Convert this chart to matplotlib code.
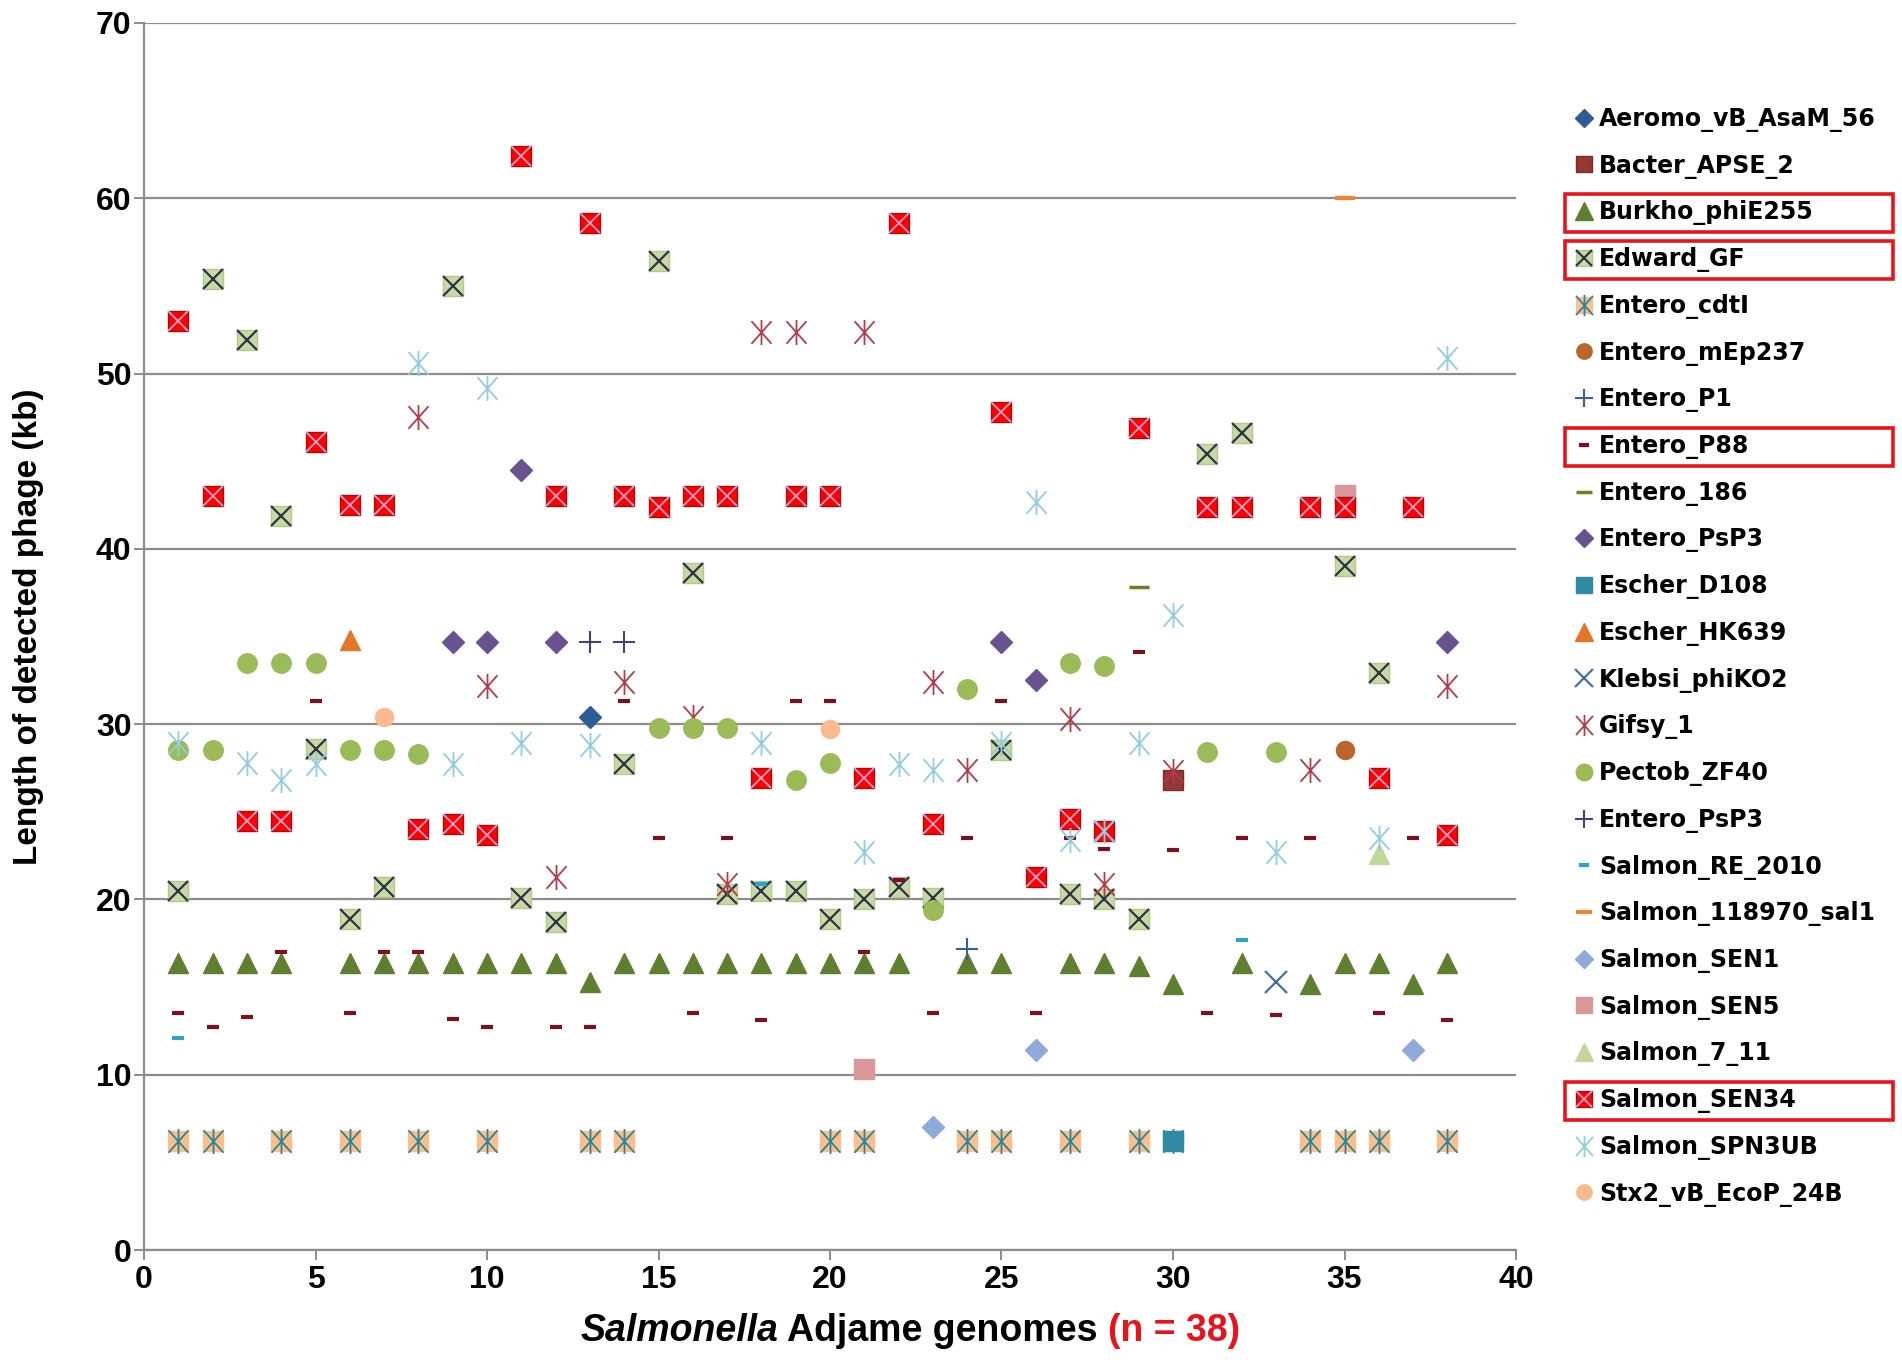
import matplotlib
matplotlib.use("Agg")
import matplotlib.pyplot as plt
from matplotlib.path import Path
from matplotlib.patches import Rectangle
from matplotlib.offsetbox import TextArea, HPacker, AnchoredOffsetbox

# genome number (x) and length of detected phage in kb (y), one pair per phage
aeromo_x = [13]
aeromo_y = [30.4]
bacter_x = [30]
bacter_y = [26.8]
burkho_x = [1, 2, 3, 4, 6, 7, 8, 9, 10, 11, 12, 13, 14, 15, 16, 17, 18, 19, 20, 21, 22,
            24, 25, 27, 28, 29, 30, 32, 34, 35, 36, 37, 38]
burkho_y = [16.4, 16.4, 16.4, 16.4, 16.4, 16.4, 16.4, 16.4, 16.4, 16.4, 16.4, 15.3, 16.4,
            16.4, 16.4, 16.4, 16.4, 16.4, 16.4, 16.4, 16.4, 16.4, 16.4, 16.4, 16.4, 16.2,
            15.2, 16.4, 15.2, 16.4, 16.4, 15.2, 16.4]
edward_x = [1, 2, 3, 4, 5, 6, 7, 9, 11, 12, 14, 15, 16, 17, 18, 19, 20, 21, 22, 23, 25,
            27, 28, 29, 31, 32, 35, 36]
edward_y = [20.5, 55.4, 51.9, 41.9, 28.6, 18.9, 20.7, 55.0, 20.1, 18.7, 27.7, 56.4, 38.6,
            20.3, 20.5, 20.5, 18.9, 20.0, 20.7, 20.1, 28.5, 20.3, 20.0, 18.9, 45.4, 46.6,
            39.0, 32.9]
cdti_x = [1, 2, 4, 6, 8, 10, 13, 14, 20, 21, 24, 25, 27, 29, 30, 34, 35, 36, 38]
cdti_y = [6.2] * 19
mep237_x = [35]
mep237_y = [28.5]
p1_x = [24]
p1_y = [17.2]
p88_x = [5, 14, 19, 20, 25, 29, 15, 17, 24, 27, 32, 34, 37, 28, 30, 22, 4, 7, 8, 21,
         1, 6, 16, 23, 26, 31, 36, 3, 9, 18, 38, 33, 2, 10, 12, 13]
p88_y = [31.3, 31.3, 31.3, 31.3, 31.3, 34.1, 23.5, 23.5, 23.5, 23.5, 23.5, 23.5, 23.5,
         22.9, 22.8, 21.1, 17.0, 17.0, 17.0, 17.0, 13.5, 13.5, 13.5, 13.5, 13.5, 13.5,
         13.5, 13.3, 13.2, 13.1, 13.1, 13.4, 12.7, 12.7, 12.7, 12.7]
e186_x = [29]
e186_y = [37.8]
psp3_x = [9, 10, 11, 12, 25, 26, 38]
psp3_y = [34.7, 34.7, 44.5, 34.7, 34.7, 32.5, 34.7]
d108_x = [30]
d108_y = [6.2]
hk639_x = [6]
hk639_y = [34.8]
klebsi_x = [33]
klebsi_y = [15.3]
gifsy_x = [8, 18, 19, 21, 10, 14, 16, 23, 24, 27, 30, 34, 38, 12, 17, 28]
gifsy_y = [47.5, 52.4, 52.4, 52.4, 32.2, 32.4, 30.4, 32.4, 27.4, 30.3, 27.3, 27.4, 32.2,
           21.3, 20.9, 20.9]
pectob_x = [1, 2, 3, 4, 5, 6, 7, 8, 15, 16, 17, 19, 20, 23, 24, 27, 28, 31, 33]
pectob_y = [28.5, 28.5, 33.5, 33.5, 33.5, 28.5, 28.5, 28.3, 29.8, 29.8, 29.8, 26.8, 27.8,
            19.4, 32.0, 33.5, 33.3, 28.4, 28.4]
psp3b_x = [13, 14]
psp3b_y = [34.7, 34.7]
re2010_x = [1, 18, 32]
re2010_y = [12.1, 20.9, 17.7]
sal1_x = [35]
sal1_y = [60.0]
sen1_x = [23, 26, 37]
sen1_y = [7.0, 11.4, 11.4]
sen5_x = [21, 35]
sen5_y = [10.3, 43.1]
s711_x = [36]
s711_y = [22.6]
sen34_x = [1, 2, 3, 4, 5, 6, 7, 8, 9, 10, 11, 12, 13, 14, 15, 16, 17, 18, 19, 20, 21, 22,
           23, 25, 26, 27, 28, 29, 31, 32, 34, 35, 36, 37, 38]
sen34_y = [53.0, 43.0, 24.5, 24.5, 46.1, 42.5, 42.5, 24.0, 24.3, 23.7, 62.4, 43.0, 58.6,
           43.0, 42.4, 43.0, 43.0, 26.9, 43.0, 43.0, 26.9, 58.6, 24.3, 47.8, 21.3, 24.6,
           23.9, 46.9, 42.4, 42.4, 42.4, 42.4, 26.9, 42.4, 23.7]
spn3ub_x = [1, 3, 4, 5, 8, 9, 10, 11, 13, 18, 21, 22, 23, 25, 26, 27, 28, 29, 30, 33, 36, 38]
spn3ub_y = [28.9, 27.8, 26.8, 27.7, 50.6, 27.7, 49.2, 28.9, 28.8, 28.9, 22.7, 27.7, 27.4,
            28.9, 42.7, 23.4, 23.9, 28.9, 36.2, 22.7, 23.5, 50.9]
stx2_x = [7, 20]
stx2_y = [30.4, 29.7]

boxed = ["Burkho_phiE255", "Edward_GF", "Entero_P88", "Salmon_SEN34"]

narrow = ["Liberation Sans Narrow", "Liberation Sans", "DejaVu Sans"]

# excel style asterisk: vertical bar plus a cross
star = Path([(0, -1), (0, 1), (-0.8, -0.9), (0.8, 0.9), (-0.8, 0.9), (0.8, -0.9)],
            [Path.MOVETO, Path.LINETO, Path.MOVETO, Path.LINETO, Path.MOVETO, Path.LINETO])

fig = plt.figure(figsize=(19.02, 13.62), dpi=100)
ax = fig.add_axes([144 / 1902, 1 - 1250 / 1362, (1516 - 144) / 1902, (1250 - 23) / 1362])


def pts(x, y, **kw):
    return ax.plot(x, y, linestyle="none", **kw)[0]


def square(x, y, face, edge=None):
    return pts(x, y, marker="s", ms=14, mfc=face, mec=edge or face, mew=1)


def cross(x, y, color, ms=14, mew=1.6):
    return pts(x, y, marker="x", ms=ms, mec=color, mew=mew)


def asterisk(x, y, color, ms=18):
    return pts(x, y, marker=star, ms=ms, mec=color, mfc="none", mew=1.3)


def dash(x, y, color):
    return pts(x, y, marker="_", ms=8, mec=color, mew=3)


handles = []
labels = []


def add(label, *lines):
    handles.append(lines if len(lines) > 1 else lines[0])
    labels.append(label)


add("Aeromo_vB_AsaM_56", pts(aeromo_x, aeromo_y, marker="D", ms=11, color="#2F5C96"))
add("Bacter_APSE_2", square(bacter_x, bacter_y, "#953735", "#7A2A28"))
add("Burkho_phiE255", pts(burkho_x, burkho_y, marker="^", ms=15, color="#5F7F30"))
add("Edward_GF", square(edward_x, edward_y, "#C9D9A5", "#B5C88A"),
    cross(edward_x, edward_y, "#2E3347"))
add("Entero_cdtI", square(cdti_x, cdti_y, "#F9C08E"), asterisk(cdti_x, cdti_y, "#2F8598"))
add("Entero_mEp237", pts(mep237_x, mep237_y, marker="o", ms=13, color="#B9652B"))
add("Entero_P1", pts(p1_x, p1_y, marker="+", ms=16, mew=1.5, color="#3A5E96"))
add("Entero_P88", dash(p88_x, p88_y, "#7D0F1E"))
add("Entero_186", pts(e186_x, e186_y, marker="_", ms=14, mew=2.5, color="#6B801E"))
add("Entero_PsP3", pts(psp3_x, psp3_y, marker="D", ms=11, color="#6A5290"))
add("Escher_D108", square(d108_x, d108_y, "#318AA3"))
add("Escher_HK639", pts(hk639_x, hk639_y, marker="^", ms=15, color="#E2762A"))
add("Klebsi_phiKO2", cross(klebsi_x, klebsi_y, "#4470A8", ms=16, mew=1.6))
add("Gifsy_1", asterisk(gifsy_x, gifsy_y, "#B13D4B"))
add("Pectob_ZF40", pts(pectob_x, pectob_y, marker="o", ms=14, color="#9BBB59"))
add("Entero_PsP3", pts(psp3b_x, psp3b_y, marker="+", ms=16, mew=1.5, color="#4F3F6E"))
add("Salmon_RE_2010", dash(re2010_x, re2010_y, "#31A3C6"))
add("Salmon_118970_sal1", pts(sal1_x, sal1_y, marker="_", ms=14, mew=3, color="#F08132"))
add("Salmon_SEN1", pts(sen1_x, sen1_y, marker="D", ms=11, color="#8DAAD8"))
add("Salmon_SEN5", square(sen5_x, sen5_y, "#D9979A"))
add("Salmon_7_11", pts(s711_x, s711_y, marker="^", ms=15, color="#C3D69B"))
add("Salmon_SEN34", square(sen34_x, sen34_y, "#FF0000", "#A01010"),
    cross(sen34_x, sen34_y, "#D9A3CF", mew=1.3))
add("Salmon_SPN3UB", asterisk(spn3ub_x, spn3ub_y, "#93CDDD"))
add("Stx2_vB_EcoP_24B", pts(stx2_x, stx2_y, marker="o", ms=13, color="#FAB98E"))

ax.set_xlim(0, 40)
ax.set_ylim(0, 70)
ax.set_xticks(range(0, 41, 5))
ax.set_yticks(range(0, 71, 10))
ax.yaxis.grid(True, color="#8C8C8C", linewidth=1.6)
ax.set_axisbelow(True)
for side in ["top", "right"]:
    ax.spines[side].set_visible(False)
for side in ["left", "bottom"]:
    ax.spines[side].set_color("#8C8C8C")
    ax.spines[side].set_linewidth(1.6)
ax.tick_params(direction="out", length=7, width=1.4, color="#8C8C8C", pad=2)
ax.tick_params(axis="x", pad=4)
for t in ax.get_xticklabels() + ax.get_yticklabels():
    t.set_fontfamily(narrow)
    t.set_fontweight("bold")
    t.set_fontsize(23)

fig.text(0.015, 0.54, "Length of detected phage (kb)", rotation=90, ha="center", va="center",
         fontsize=24, fontweight="bold", family=["Liberation Sans", "DejaVu Sans"])

xl = dict(size=27, weight="bold", family=narrow)
xlabel = HPacker(children=[TextArea("Salmonella", textprops=dict(style="italic", **xl)),
                           TextArea(" Adjame genomes ", textprops=xl),
                           TextArea("(n = 38)", textprops=dict(color="#E8141B", **xl))],
                 align="baseline", pad=0, sep=0)
fig.add_artist(AnchoredOffsetbox(loc="center", child=xlabel, frameon=False, pad=0,
                                 borderpad=0, bbox_to_anchor=(910 / 1902, 1 - 1331 / 1362),
                                 bbox_transform=fig.transFigure))

leg = fig.legend(handles, labels, loc="upper left", frameon=False,
                 bbox_to_anchor=(1575 / 1902, 1 - 107 / 1362), borderpad=0, borderaxespad=0,
                 handlelength=0.8, handletextpad=0.22, labelspacing=0.92, markerscale=0.85,
                 prop=dict(family="DejaVu Sans", weight="bold", size=17))

# red frames round the highlighted phages
fig.canvas.draw()
for t in leg.get_texts():
    if t.get_text() in boxed:
        bb = t.get_window_extent()
        yc = (bb.y0 + bb.y1) / 2
        fig.add_artist(Rectangle((1565 / 1902, (yc - 19) / 1362), (1893 - 1565) / 1902,
                                 38 / 1362, transform=fig.transFigure, fill=False,
                                 edgecolor="#E8141B", linewidth=2.6))

fig.savefig("out.png", dpi=100)
